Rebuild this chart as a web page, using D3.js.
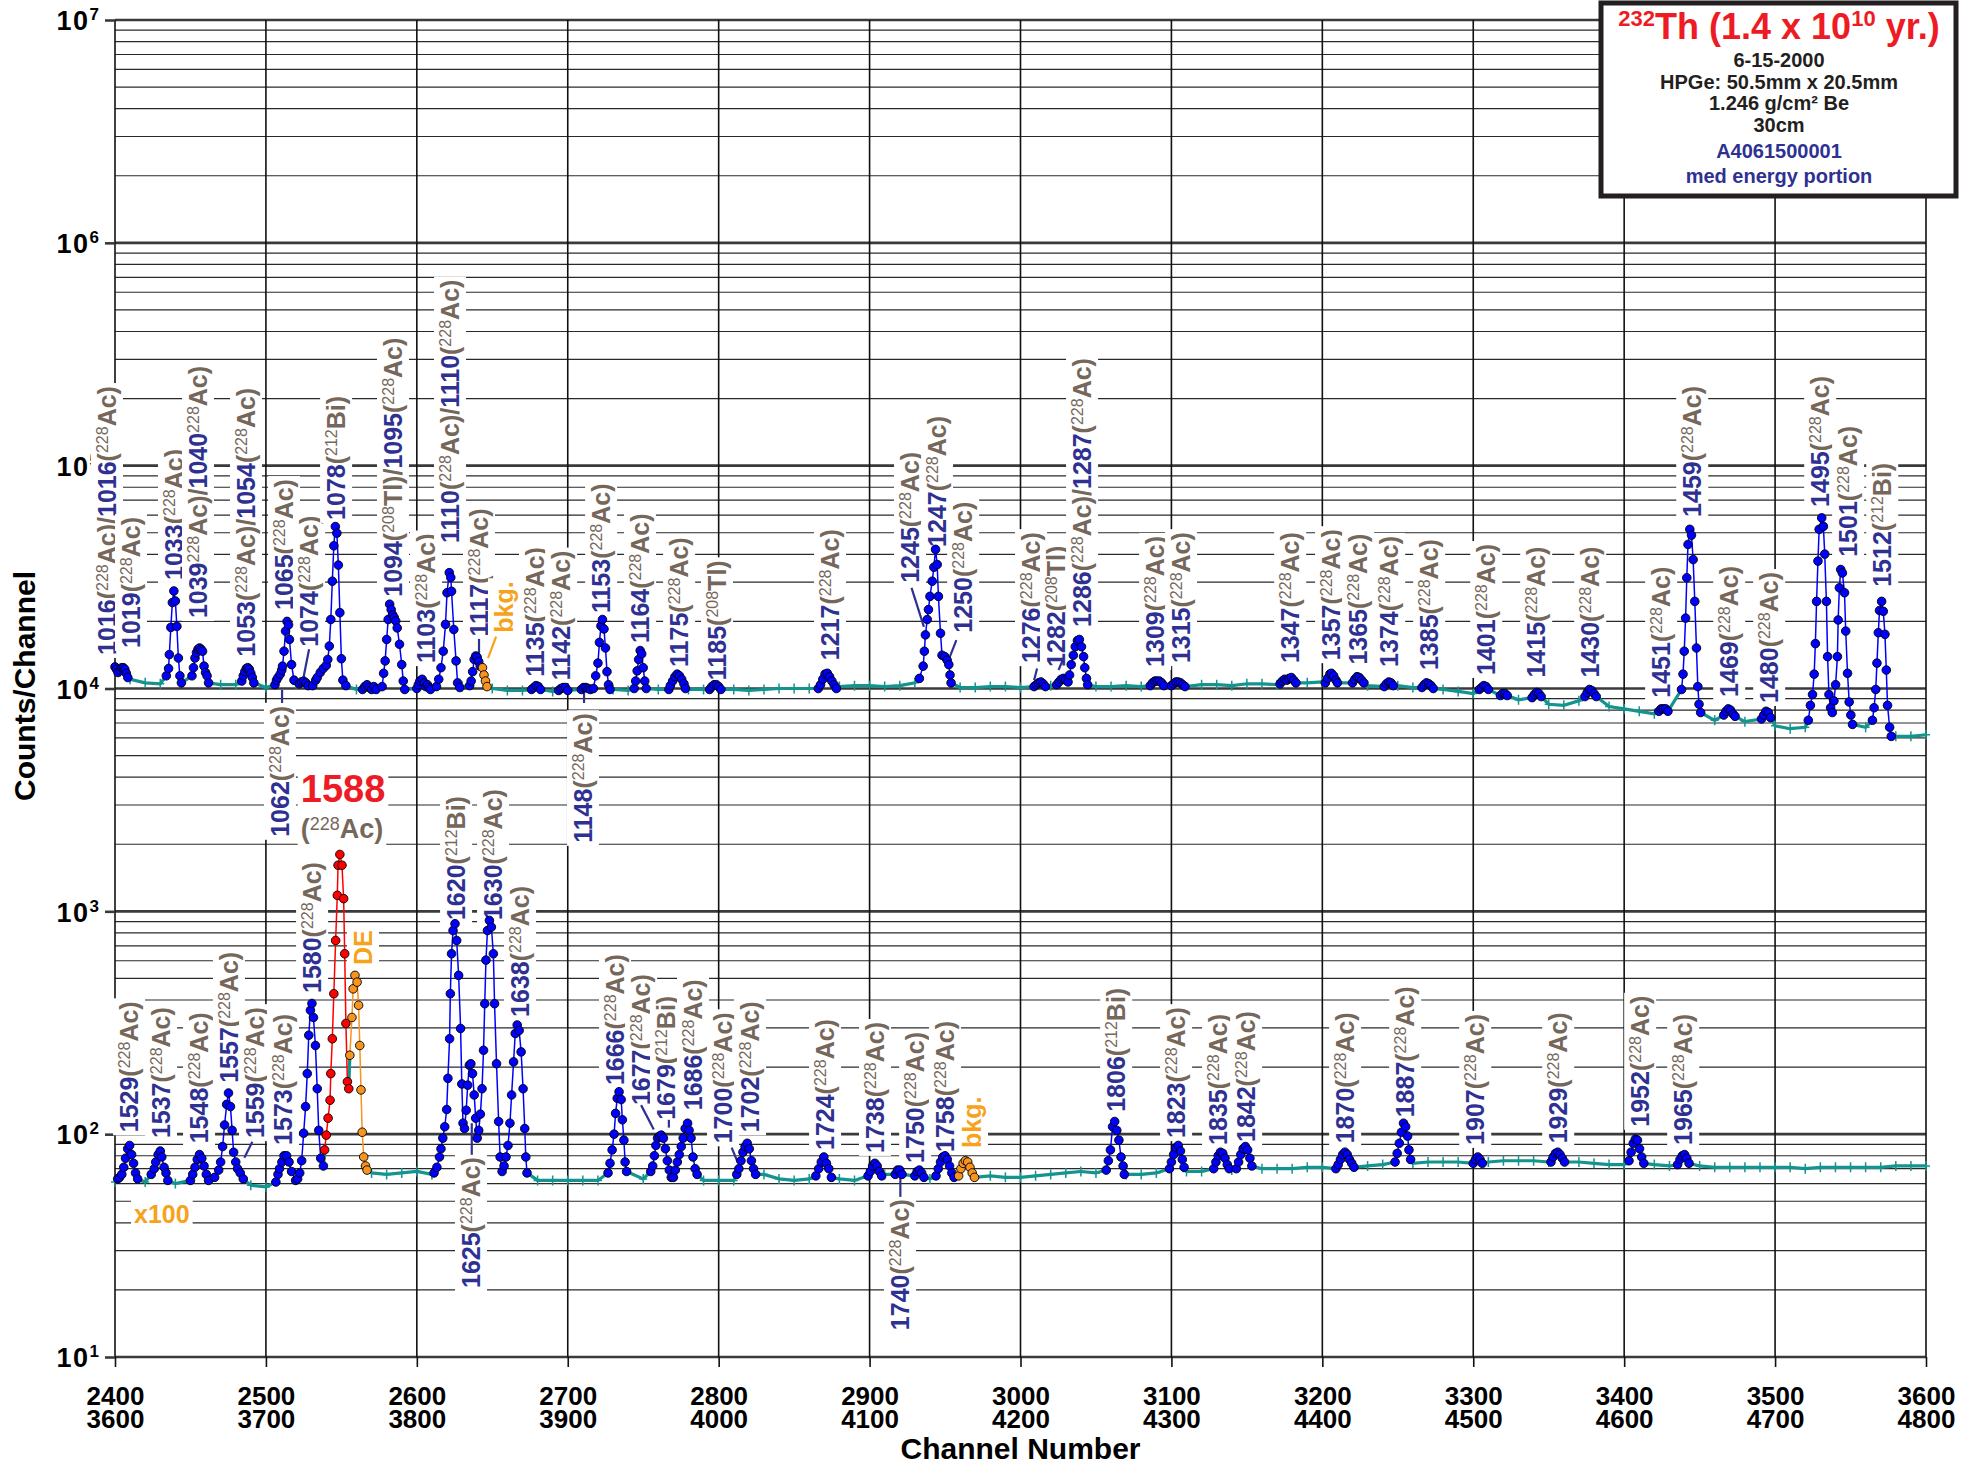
<!DOCTYPE html>
<html><head><meta charset="utf-8">
<script src="https://cdn.jsdelivr.net/npm/d3@7"></script>
<style>body{margin:0;background:#fff}svg{display:block}</style>
</head><body>
<svg id="c" width="1961" height="1465"></svg>
<script>
// ---------------- DATA ----------------
const xTickTop = [2400,2500,2600,2700,2800,2900,3000,3100,3200,3300,3400,3500,3600];
const xTickLow = [3600,3700,3800,3900,4000,4100,4200,4300,4400,4500,4600,4700,4800];
const yTickExp = [1,2,3,4,5,6,7];

// teal background spectrum, one reading every 10 channels
const bkgTopStart = 2400, bkgLowStart = 3600, bkgStep = 10;
const bkgTopCounts = [
 12200,11000,10600,10500,10600,10700,10800,10400,10400,10300,
 10100,10300,10500,10600,10700,10200,9900,9900,10000,10000,
 10000,9900,10100,10200,10600,10000,9800,9800,9900,9700,
 9800,9900,9900,9900,9800,9800,9900,9800,9900,9900,
 10000,9900,9800,9900,10000,10000,10000,10000,10200,10300,
 10300,10200,10300,10600,10600,10300,10100,10100,10200,10200,
 10100,10200,10300,10500,10400,10200,10200,10300,10200,10300,
 10400,10300,10400,10400,10300,10500,10500,10400,10500,10600,
 10700,10800,10600,10300,10300,10300,10100,10200,9900,9700,
 9500,9600,9200,8900,8900,8500,8400,8800,8800,8300,
 8100,7900,7700,7800,7600,7400,7200,7400,7100,7000,
 6800,6600,6700,6800,6700,6400,6700,6500,6100,6100,
 6200];
const bkgLowCounts = [
 61,62,61,62,60,60,60,61,62,59,
 58,59,61,63,64,66,67,67,66,67,
 68,66,66,65,65,64,64,63,62,62,
 62,62,62,63,64,63,63,63,63,62,
 62,62,64,66,63,62,63,65,63,62,
 64,66,64,63,63,64,65,65,65,64,
 64,65,66,67,68,67,67,66,66,67,
 67,68,68,69,69,70,70,70,70,71,
 71,72,72,72,73,74,74,75,75,75,
 76,75,76,76,76,75,75,75,74,73,
 73,74,73,72,72,72,71,71,71,71,
 71,71,70,71,71,71,71,71,72,72,
 72];

// fitted peak regions: [channel, counts]; k: p = peak, b = background region, m = main (1588), d = double escape
const peaksTop = [
 {k:'p',p:[[2400,12500],[2401,12200],[2402,11800],[2403.5,12100],[2404.5,12400],[2405.5,12400],[2406.5,12200],[2407.5,11700],[2408.5,11200]]},
 {k:'p',p:[[2434,11400],[2435.5,12300],[2436,14200],[2437,18800],[2438,24300],[2439,27400],[2440,24700],[2441,19000],[2442,13700],[2443,11400],[2444,10600]]},
 {k:'p',p:[[2451,11400],[2452,12400],[2453,13700],[2454,14500],[2455,15000],[2456,15200],[2457,15000],[2458,14700],[2459,12600],[2460,11800],[2461,11400],[2462,10600]]},
 {k:'p',p:[[2484,10800],[2485,11400],[2486,11900],[2487,12300],[2488,12400],[2489,12200],[2490,11700],[2491,11200],[2492,10600]]},
 {k:'p',p:[[2506,10400],[2507,10900],[2508,11200],[2509.5,11600],[2510.5,12100],[2511,12600],[2512,14700],[2513,18100],[2514,20000],[2515,19300],[2515.6,16600],[2517,12800],[2518.6,10900]]},
 {k:'p',p:[[2522,10500],[2523.5,10700],[2525,10800],[2526.5,10600],[2528,10300]]},
 {k:'p',p:[[2531,10300],[2533,10900],[2534,11200],[2536,11800],[2538,12300],[2540,12700],[2541,13500],[2542,15500],[2543,20400],[2544,30300],[2545,43700],[2546,53300],[2547,49800],[2548,35800],[2549,21900],[2550,13600],[2551,10900],[2553,10300]]},
 {k:'p',p:[[2564,9900],[2565.5,10200],[2567,10400],[2568.5,10100],[2570,9900],[2571.5,10200],[2573,9900]]},
 {k:'p',p:[[2577,10200],[2578,11700],[2579,13300],[2580,16600],[2581,20400],[2582,23900],[2583,22600],[2584,21400],[2585,20800],[2586,20100],[2587,18700],[2588.5,15800],[2590,12800],[2591,10800],[2592,9900]]},
 {k:'p',p:[[2600,10000],[2601,10400],[2602,10800],[2603.5,11000],[2605,10600],[2606,10200],[2607,10400],[2608,10100],[2609,9900]]},
 {k:'p',p:[[2613,10200],[2614.5,11000],[2616,12400],[2617.5,14700],[2619,19400],[2620,26900],[2621.5,33100],[2622.5,31500],[2623,27300],[2624.5,18400],[2626,13300],[2627,10600],[2628.5,10100]]},
 {k:'p',p:[[2635,10300],[2636,10800],[2637,11900],[2638,13500],[2639,14000],[2640,13800],[2641,13200],[2642,12600]]},
 {k:'b',p:[[2643.5,12400],[2644.5,11500],[2645.5,10800],[2646.5,10200]]},
 {k:'p',p:[[2676,9900],[2677.5,10100],[2679,10300],[2680.5,10200],[2682,9900]]},
 {k:'p',p:[[2694,9800],[2695.5,10000],[2697,10100],[2698.5,10100],[2700,9800]]},
 {k:'p',p:[[2709,9900],[2710.5,10100],[2712,10100],[2713.5,10000],[2715,9900]]},
 {k:'p',p:[[2717,10000],[2718.5,11400],[2720,13000],[2721,16100],[2722,19100],[2723,20400],[2724,18500],[2725,15200],[2726,11900],[2727,10400],[2728,9900]]},
 {k:'p',p:[[2744,10000],[2745,10800],[2746,12000],[2747,13500],[2748,14800],[2749,14300],[2750,12400],[2751,10800],[2752,10000]]},
 {k:'p',p:[[2767,9900],[2768,10300],[2769.5,10800],[2771,11300],[2772.5,11600],[2774,11400],[2775.5,11000],[2777,10500],[2778,10000]]},
 {k:'p',p:[[2794,9900],[2795.5,10200],[2797,10400],[2798.5,10400],[2800,10200],[2801.5,9900]]},
 {k:'p',p:[[2866,10000],[2867.5,10400],[2869,11000],[2870.5,11600],[2872,11700],[2873.5,11300],[2875,10800],[2876.5,10400],[2878,10000]]},
 {k:'p',p:[[2933,11100],[2935.5,12600],[2936.3,14700],[2937,17400],[2938.2,20400],[2939,22600],[2940,25900],[2941.5,30300],[2942.6,35000],[2943.7,42100],[2944.8,36000],[2945.6,25900],[2947,17700],[2948,14100],[2949.8,13900],[2951.4,13400],[2952.5,12800],[2953.3,11500],[2954,10600]]},
 {k:'p',p:[[3009,10200],[3010.5,10400],[3012,10600],[3013.5,10700],[3015,10500],[3016.5,10200]]},
 {k:'p',p:[[3024,10400],[3025.5,10700],[3027,11000],[3028.5,11100],[3030,10900],[3031.5,10700]]},
 {k:'p',p:[[3032.5,11500],[3033.6,12800],[3035,14100],[3036.3,15400],[3037.7,16400],[3039,16600],[3040.4,15400],[3041.8,13900],[3042.6,12400],[3043.7,11100],[3044.5,10400]]},
 {k:'p',p:[[3086,10300],[3087.5,10600],[3089,10800],[3090.5,10800],[3092,10800],[3093.5,10600],[3095,10300]]},
 {k:'p',p:[[3100,10300],[3101.5,10500],[3103,10700],[3104.5,10700],[3106,10600],[3107.5,10400],[3109,10200]]},
 {k:'p',p:[[3172,10500],[3173.5,10800],[3175,11000],[3176.5,10900],[3178,11100],[3179.5,11200],[3181,10900],[3182.5,10600]]},
 {k:'p',p:[[3202,10600],[3203.5,11100],[3205,11600],[3206,11700],[3207.5,11400],[3209,10900],[3210,10600]]},
 {k:'p',p:[[3220,10600],[3221.5,11000],[3223,11300],[3224.5,11200],[3226,10900],[3227.5,10600]]},
 {k:'p',p:[[3241,10200],[3242.5,10500],[3244,10700],[3245.5,10600],[3247,10300]]},
 {k:'p',p:[[3266,10100],[3267.5,10400],[3269,10600],[3270.5,10500],[3272,10300],[3273.5,10000]]},
 {k:'p',p:[[3304,9900],[3305.5,10100],[3307,10300],[3308.5,10200],[3310,9900]]},
 {k:'p',p:[[3318,9300],[3319.5,9500],[3321,9500],[3322.5,9300]]},
 {k:'p',p:[[3339,9100],[3340.5,9400],[3342,9600],[3343.5,9500],[3345,9200]]},
 {k:'p',p:[[3374,9200],[3375.5,9600],[3377,9900],[3378.5,9800],[3380,9500],[3381.5,9200]]},
 {k:'p',p:[[3423,7900],[3424.5,8100],[3426,8100],[3427.5,8100],[3429,7900]]},
 {k:'p',p:[[3438,9900],[3439,11600],[3439.8,14700],[3440.7,20700],[3441.5,31400],[3442.3,44300],[3443.5,51800],[3444.6,48800],[3445.7,37900],[3446.8,24600],[3447.9,15200],[3448.8,10200],[3449.6,8500],[3450.7,7800]]},
 {k:'p',p:[[3466,7600],[3467.5,7900],[3469,8100],[3470.5,8000],[3472,7700],[3473.5,7500]]},
 {k:'p',p:[[3491,7300],[3492.5,7600],[3494,7900],[3495.5,7800],[3497,7400]]},
 {k:'p',p:[[3522,7200],[3523.4,8400],[3524.8,9400],[3525.9,11600],[3526.7,15900],[3527.5,24600],[3528.4,37300],[3529.2,51800],[3530.9,58300],[3532,53400],[3532.9,40100],[3534,24600],[3534.8,13900],[3535.7,9400],[3536.8,8200],[3537.9,7800],[3539,8800],[3540.1,10400],[3541.3,13900],[3541.8,20300],[3542.6,28300],[3543.5,34200],[3544.6,33000],[3546,26900],[3546.8,18100],[3548,11700],[3549.1,8700],[3550.2,7600],[3551.3,6900]]},
 {k:'p',p:[[3564.5,7200],[3565.6,8200],[3566.7,9900],[3567.5,13000],[3568.4,17800],[3569.2,22400],[3570.6,24600],[3571.7,22200],[3572.8,17500],[3573.7,12100],[3574.5,8400],[3575.9,6700],[3577,6100]]}
];
const peaksLow = [
 {k:'p',p:[[3601.8,63],[3603,64],[3604.5,66],[3605.8,71],[3607,78],[3608.4,86],[3609.7,89],[3611,81],[3612.3,74],[3613.6,67],[3615,63]]},
 {k:'p',p:[[3624,66],[3626,70],[3627,75],[3628.6,81],[3630,84],[3631,79],[3632.5,71],[3633.8,67],[3635,62]]},
 {k:'p',p:[[3650,62],[3651.5,66],[3653,71],[3654.5,77],[3656,81],[3657.5,78],[3659,72],[3660.5,66],[3662,62]]},
 {k:'p',p:[[3666,64],[3668.7,69],[3670,75],[3671.3,88],[3672.6,110],[3674,136],[3675.2,153],[3676.5,133],[3677.6,104],[3678.6,83],[3680,75],[3681.2,70],[3683,67],[3685,63]]},
 {k:'p',p:[[3706.6,61],[3708,66],[3709,70],[3710.6,75],[3712,80],[3713.7,80],[3715.3,75],[3717,68],[3719.7,62]]},
 {k:'p',p:[[3721,63],[3722.4,67],[3723.7,76],[3725,101],[3726.3,133],[3727.4,187],[3728.4,278],[3729.5,360],[3730.5,386],[3731.5,334],[3732.8,250],[3734,160],[3735,104],[3736.3,78],[3738.1,72]]},
 {k:'m',p:[[3738.9,85],[3740,99],[3741.2,118],[3742.5,142],[3743,187],[3744,268],[3745,427],[3746.2,740],[3747.3,1180],[3747.8,1610],[3749,1800],[3750.4,1610],[3751.5,1140],[3752.2,645],[3753,314],[3754,172],[3754.9,160]]},
 {k:'d',p:[[3755.6,226],[3757,334],[3757.8,449],[3759,516],[3760.4,481],[3761.4,379],[3762.2,250],[3763,158],[3763.8,102],[3764.8,79],[3766,72],[3767,69]]},
 {k:'p',p:[[3811.4,67],[3813.3,71],[3815,79],[3816,86],[3817.2,96],[3818.5,108],[3819.8,129],[3820.6,178],[3821.7,268],[3822.2,427],[3823,645],[3824,820],[3825.3,880],[3826.4,740],[3827.7,516],[3829,298],[3829.8,168],[3830.6,112],[3831.6,106],[3832.7,128],[3833.7,166],[3834.8,204],[3835.8,207],[3836.9,187],[3838,150],[3839,118],[3840,96],[3841,104],[3842.1,123],[3843.2,160],[3844.2,238],[3845,385],[3845.8,604],[3846.8,820],[3848.1,910],[3849.4,850],[3850.7,645],[3851.5,385],[3852.8,207],[3854.2,114],[3855.2,79],[3856.5,68],[3857.8,72],[3859.1,79],[3860.4,89],[3861.7,112],[3862.8,150],[3864.1,211],[3865.2,283],[3866.5,309],[3867.8,292],[3869.1,234],[3870.4,160],[3871.5,106],[3872.2,79],[3873,67]]},
 {k:'p',p:[[3926.7,67],[3928,74],[3929.4,85],[3930.7,100],[3931.7,124],[3932.8,145],[3934,155],[3935.4,143],[3936.2,116],[3937.2,94],[3938,75],[3939,68]]},
 {k:'p',p:[[3955,68],[3956.3,72],[3957.4,80],[3958.4,89],[3959.5,96],[3960.8,98],[3962,99],[3963.4,96],[3964.7,86],[3966,76],[3967.3,69],[3968.6,64]]},
 {k:'p',p:[[3970,64],[3971.3,69],[3972.6,75],[3973.9,81],[3975.2,88],[3976.5,96],[3977.8,106],[3979.4,112],[3980.4,104],[3981.7,96],[3983,79],[3984.4,70],[3985.7,66]]},
 {k:'p',p:[[4012,66],[4013.4,70],[4014.8,76],[4016.1,83],[4017.5,88],[4018.9,91],[4020.3,86],[4021.7,76],[4023.1,70],[4024.5,66]]},
 {k:'p',p:[[4064.4,65],[4066.3,70],[4068,75],[4069.7,79],[4071.4,74],[4073,70],[4074.7,64]]},
 {k:'p',p:[[4099,65],[4100.5,68],[4102,72],[4103.5,74],[4105,72],[4106.5,68],[4108,65]]},
 {k:'p',p:[[4117,66],[4118.5,69],[4120,69],[4121.5,66]]},
 {k:'p',p:[[4130,65],[4131.5,68],[4133,69],[4134.5,67],[4136,64]]},
 {k:'p',p:[[4144,65],[4145.5,70],[4147,75],[4148.5,79],[4150,80],[4151.5,77],[4153,72],[4154.5,67],[4156,64]]},
 {k:'b',p:[[4159,65],[4160.5,70],[4162,74],[4163.5,76],[4165,75],[4166.5,71],[4168,67],[4169.5,64]]},
 {k:'p',p:[[4256.8,69],[4258.2,76],[4259.6,85],[4261,108],[4262.4,114],[4263.8,104],[4265.2,94],[4266.6,79],[4268,72],[4268.8,66]]},
 {k:'p',p:[[4298.7,70],[4300,75],[4301.5,81],[4303,87],[4304.5,89],[4306,84],[4307.2,77],[4308.4,71]]},
 {k:'p',p:[[4328,70],[4329.5,75],[4331,80],[4332.5,83],[4334,82],[4335.5,78],[4337,73],[4338.3,70]]},
 {k:'p',p:[[4343,70],[4344.5,75],[4346,81],[4347.5,86],[4349,88],[4350.5,85],[4352,78],[4353.3,72]]},
 {k:'p',p:[[4409,70],[4410.5,73],[4412,77],[4413.5,81],[4415,83],[4416.5,81],[4418,77],[4419.5,74],[4421,71]]},
 {k:'p',p:[[4448.2,75],[4449.6,82],[4451,91],[4452.4,102],[4453.8,112],[4455.2,108],[4456.5,98],[4457.4,85],[4458.5,77]]},
 {k:'p',p:[[4500,74],[4501.5,77],[4503,79],[4504.5,77],[4506,74]]},
 {k:'p',p:[[4551.5,75],[4553,79],[4554.5,82],[4556,83],[4557.5,81],[4559,78],[4560.5,75]]},
 {k:'p',p:[[4603.2,76],[4604.6,83],[4606,91],[4607.4,95],[4608.8,94],[4610.2,86],[4611.6,79],[4613,74]]},
 {k:'p',p:[[4635.4,73],[4637,77],[4638.5,80],[4640,81],[4641.5,78],[4643,74]]}
];

// peak labels: [text, channel, counts at start of text]  (^ marks the mass number)
const labelsTop = [
 ["1016(^228Ac)/1016(^228Ac)",2394.7,14150],["1019(^228Ac)",2410.6,15200],["1033(^228Ac)",2439.1,30700],
 ["1039^228Ac)/1040^228Ac)",2455,20700],["1053(^228Ac)/1054(^228Ac)",2486.8,13900],["1065(^228Ac)",2512,22500],
 ["1074(^228Ac)",2528.6,15400],["1078(^212Bi)",2546.5,57100],["1094(^208Tl)/1095(^228Ac)",2584.2,25800],
 ["1103(^228Ac)",2606.1,13000],["1110(^228Ac)/1110(^228Ac)",2622,45000],["1117(^228Ac)",2641.2,17100],
 ["bkg.",2657.8,17800],["1135(^228Ac)",2678.3,11300],["1142(^228Ac)",2695.6,10900],["1153(^228Ac)",2722.1,21800],
 ["1164(^228Ac)",2747.9,16000],["1175(^228Ac)",2773.8,12500],["1185(^208Tl)",2798.9,10900],["1217(^228Ac)",2873.8,13400],
 ["1245(^228Ac)",2926.8,29800],["1247(^228Ac)",2944.7,43200],["1250(^228Ac)",2962,17800],["1276(^228Ac)",3007,13000],
 ["1282(^208Tl)",3023.6,12500],["1286(^228Ac)/1287(^228Ac)",3040.8,18900],["1309(^228Ac)",3089.2,12500],
 ["1315(^228Ac)",3106.4,13000],["1347(^228Ac)",3178.7,13000],["1357(^228Ac)",3205.8,13400],["1365(^228Ac)",3223.7,12800],
 ["1374(^228Ac)",3244.3,12500],["1385(^228Ac)",3270.8,12100],["1401(^228Ac)",3308.6,11500],["1415(^228Ac)",3341.7,11200],
 ["1430(^228Ac)",3377.5,11200],["1451(^228Ac)",3424.5,9090],["1459(^228Ac)",3445.1,58900],["1469(^228Ac)",3469.6,9170],
 ["1480(^228Ac)",3496.1,8610],["1495(^228Ac)",3529.9,65300],["1501(^228Ac)",3548.4,39000],["1512(^212Bi)",3571,28600],
 ["1062(^228Ac)",2509.3,2160],["1148(^228Ac)",2710.1,2030]
];
const labelsLow = [
 ["1529(^228Ac)",3609.3,102],["1537(^228Ac)",3630.5,96],["1548(^228Ac)",3655.7,91],["1557(^228Ac)",3675.5,170],
 ["1559(^228Ac)",3692.8,96],["1573(^228Ac)",3711.3,89.5],["1580(^228Ac)",3730.6,430],["DE",3764.3,574],
 ["1620(^212Bi)",3826,914],["1625(^228Ac)",3835.9,20.4],["1630(^228Ac)",3850.5,914],["1638(^228Ac)",3868.4,336],
 ["1666(^228Ac)",3931.3,166],["1677(^228Ac)",3948.6,135],["1679(^212Bi)",3965.1,116],["1686(^228Ac)",3983,128],
 ["1700(^228Ac)",4002.9,91],["1702(^228Ac)",4020.8,102],["1724(^228Ac)",4070.5,84.9],["1738(^228Ac)",4103.6,82.4],
 ["1740(^228Ac)",4120.2,13.2],["1750(^228Ac)",4130.2,74.3],["1758(^228Ac)",4150,83.2],["bkg.",4167.9,86.7],
 ["1806(^212Bi)",4263.4,126],["1823(^228Ac)",4303.1,96],["1835(^228Ac)",4330.9,89.5],["1842(^228Ac)",4349.5,92.2],
 ["1870(^228Ac)",4415.1,91],["1887(^228Ac)",4454.9,119],["1907(^228Ac)",4501.3,89.5],["1929(^228Ac)",4556.3,91],
 ["1952(^228Ac)",4610.6,108],["1965(^228Ac)",4639.1,89.5]
];
const mainPeakLabel = ["1588",3751.1,3100];
const mainPeakIso = ["(^228Ac)",3750.4,2130];
const scaleNote = ["x100",3612.6,39.9];
// leader lines: [ch1, counts1, ch2, counts2, kind]
const leadersTop = [
 [2525,11300,2528.6,15000,'n'],[2641.2,14300,2641.2,16700,'n'],[2647.2,13700,2652.5,17100,'o'],
 [2510.7,9860,2510.7,8610,'n'],[2710.8,9860,2710.8,8610,'n'],[2927.8,28300,2936,18900,'n'],
 [2952.5,13500,2957.5,16500,'n'],[3009,10900,3011,12300,'n'],[3025.2,12100,3028,13400,'n']
];
const leadersLow = [
 [3685.7,78.4,3691,92.4,'n'],[3836.4,112,3836.4,80.8,'n'],[3957,105,3948.6,135,'n'],
 [3967,116,3967,107,'n'],[4008.6,87,4012.7,74.6,'n'],[4120.4,66.5,4120.4,52.3,'n']
];
const infoLines = ["6-15-2000","HPGe: 50.5mm x 20.5mm","1.246 g/cm\u00B2 Be","30cm"];
const infoBlue = ["A4061500001","med energy portion"];

// ---------------- CHART ----------------
const m = {l:115, r:1926, t:20, b:1357};
const xTop = d3.scaleLinear().domain([2400,3600]).range([m.l,m.r]);
const xLow = d3.scaleLinear().domain([3600,4800]).range([m.l,m.r]);
const y = d3.scaleLog().domain([10,1e7]).range([m.b,m.t]);
const FONT = "'Liberation Sans', Arial, Helvetica, sans-serif";
const NUM='#2E3192', ISO='#76675B', ORG='#F7A21B', RED='#ED1C24', TEAL='#14948F';
const svg = d3.select('#c').attr('font-family',FONT);

// grid
const grid = svg.append('g');
const isMajor = d => Math.abs(Math.log10(d) - Math.round(Math.log10(d))) < 1e-9;
grid.selectAll('line.h').data(y.ticks()).join('line')
  .attr('x1',m.l).attr('x2',m.r).attr('y1',d=>y(d)).attr('y2',d=>y(d))
  .attr('stroke',d=>isMajor(d)?'#3a3a3a':'#2a2a2a').attr('stroke-width',d=>isMajor(d)?2.6:1.2);
grid.selectAll('line.v').data(xTickTop).join('line')
  .attr('x1',d=>xTop(d)).attr('x2',d=>xTop(d)).attr('y1',m.t).attr('y2',m.b)
  .attr('stroke','#111').attr('stroke-width',1.6);

// axes
const axT = svg.append('g').attr('transform',`translate(0,${m.b})`)
  .call(d3.axisBottom(xTop).tickValues(xTickTop).tickSize(10).tickFormat(d3.format('d')));
const axL = svg.append('g').attr('transform',`translate(0,${m.b})`)
  .call(d3.axisBottom(xLow).tickValues(xTickLow).tickSize(0).tickFormat(d3.format('d')));
[axT,axL].forEach((a,i)=>{
  a.select('.domain').remove();
  a.attr('font-family',FONT).attr('font-size',26).attr('font-weight','bold');
  a.selectAll('line').attr('stroke','#111').attr('stroke-width',1.6);
  a.selectAll('text').attr('fill','#000').attr('dy',0).attr('y',i===0?48:71);
});
const axY = svg.append('g').attr('transform',`translate(${m.l},0)`)
  .call(d3.axisLeft(y).tickValues(yTickExp.map(e=>Math.pow(10,e))).tickSize(10).tickFormat(()=>''));
axY.select('.domain').remove();
axY.selectAll('line').attr('stroke','#3a3a3a').attr('stroke-width',2.6);
axY.selectAll('.tick').each(function(d){
  const t = d3.select(this).append('text').attr('x',-16).attr('dy','0.36em')
    .attr('text-anchor','end').attr('fill','#000').attr('font-family',FONT)
    .attr('font-weight','bold').attr('font-size',27);
  t.append('tspan').text('10').attr('letter-spacing',1.5);
  t.append('tspan').text(Math.round(Math.log10(d))).attr('font-size',17).attr('dy',-10);
});

// axis titles
svg.append('text').attr('x',(m.l+m.r)/2).attr('y',1459).attr('text-anchor','middle')
  .attr('font-weight','bold').attr('font-size',30).attr('fill','#000').text('Channel Number');
svg.append('text').attr('transform',`translate(35,686) rotate(-90)`).attr('text-anchor','middle')
  .attr('font-weight','bold').attr('font-size',30).attr('fill','#000').text('Counts/Channel');

// rich labels
const FS=25, SUP=16, SUPDY=8;
function fillRich(text, str){
  const toks = str.match(/\^\d+|\d{4}|[^\^\d]+|\d+/g);
  let shifted=false;
  toks.forEach(tk=>{
    const ts = text.append('tspan');
    if(tk[0]==='^'){
      ts.text(tk.slice(1)).attr('font-size',SUP).attr('font-weight','normal').attr('fill',ISO).attr('dy',-SUPDY).attr('class','sup');
      shifted=true;
    } else {
      ts.text(tk).attr('fill', /^\d{4}$/.test(tk)?NUM:ISO);
      if(shifted){ts.attr('dy',SUPDY); shifted=false;}
    }
  });
}
const labG = svg.append('g').attr('font-weight','bold').attr('font-size',FS);
function addBox(g, t, pad){
  const bb = t.node().getBBox();
  g.insert('rect','text').attr('x',bb.x-pad).attr('y',bb.y-pad+1).attr('width',bb.width+2*pad)
    .attr('height',bb.height+2*pad-2).attr('fill','#fff');
}
function drawVLabel(L, xs){
  const g = labG.append('g').attr('transform',`translate(${xs(L[1])},${y(L[2])}) rotate(-90)`);
  const t = g.append('text').attr('dy','0.36em');
  if(L[0]==='bkg.'||L[0]==='DE') t.text(L[0]).attr('fill',ORG);
  else fillRich(t, L[0]);
  addBox(g,t,3);
}
labelsTop.forEach(L=>drawVLabel(L,xTop));
labelsLow.forEach(L=>drawVLabel(L,xLow));
{
  const g = labG.append('g');
  const t = g.append('text').attr('x',xLow(mainPeakLabel[1])).attr('y',y(mainPeakLabel[2]))
    .attr('text-anchor','middle').attr('font-size',38).attr('fill',RED).text(mainPeakLabel[0]);
  addBox(g,t,3);
  const g2 = labG.append('g');
  const t2 = g2.append('text').attr('x',xLow(mainPeakIso[1])).attr('y',y(mainPeakIso[2]))
    .attr('text-anchor','middle').attr('font-size',27);
  fillRich(t2, mainPeakIso[0]);
  t2.selectAll('tspan.sup').attr('font-size',18);
  addBox(g2,t2,3);
  const g3 = labG.append('g');
  const t3 = g3.append('text').attr('x',xLow(scaleNote[1])).attr('y',y(scaleNote[2]))
    .attr('font-size',25).attr('fill',ORG).text(scaleNote[0]);
  addBox(g3,t3,3);
}
// leaders
const leadG = svg.append('g');
function drawLeaders(arr, xs){
  leadG.selectAll(null).data(arr).join('line')
    .attr('x1',d=>xs(d[0])).attr('y1',d=>y(d[1])).attr('x2',d=>xs(d[2])).attr('y2',d=>y(d[3]))
    .attr('stroke',d=>d[4]==='o'?ORG:NUM).attr('stroke-width',2.2);
}
drawLeaders(leadersTop,xTop); drawLeaders(leadersLow,xLow);

// spectra
const dataG = svg.append('g');
function tealSeries(start, counts, peaks){
  const ranges = peaks.map(p=>[p.p[0][0], p.p[p.p.length-1][0]]);
  const items = [];
  counts.forEach((v,i)=>{
    const c = start + i*bkgStep;
    if(!ranges.some(r=>c>=r[0]-1 && c<=r[1]+1)) items.push({c,v});
  });
  peaks.forEach(p=>{
    const a=p.p[0], b=p.p[p.p.length-1];
    items.push({c:a[0],v:a[1],edge:true},{c:(a[0]+b[0])/2,gap:true},{c:b[0],v:b[1],edge:true});
  });
  items.sort((a,b)=>a.c-b.c);
  return items;
}
const colors = {p:'#0000FF', b:'#F7931E', m:'#FF0000', d:'#F7941D'};
function drawSpectrum(start, counts, peaks, xs){
  const items = tealSeries(start, counts, peaks);
  const line = d3.line().defined(d=>!d.gap).x(d=>xs(d.c)).y(d=>y(d.v));
  dataG.append('path').attr('d',line(items)).attr('fill','none').attr('stroke',TEAL).attr('stroke-width',3.2);
  dataG.append('g').selectAll('path').data(items.filter(d=>!d.gap && !d.edge)).join('path')
    .attr('d','M-4,0h8M0,-5v10').attr('transform',d=>`translate(${xs(d.c)},${y(d.v)})`)
    .attr('stroke',TEAL).attr('stroke-width',1.5);
  const pl = d3.line().x(d=>xs(d[0])).y(d=>y(d[1]));
  peaks.forEach(pk=>{
    const col = colors[pk.k];
    dataG.append('path').attr('d',pl(pk.p)).attr('fill','none').attr('stroke',col).attr('stroke-width',1.5);
    dataG.append('g').selectAll('circle').data(pk.p).join('circle')
      .attr('cx',d=>xs(d[0])).attr('cy',d=>y(d[1])).attr('r',4.3)
      .attr('fill',col).attr('stroke','#000').attr('stroke-width',0.9);
  });
}
drawSpectrum(bkgTopStart, bkgTopCounts, peaksTop, xTop);
drawSpectrum(bkgLowStart, bkgLowCounts, peaksLow, xLow);

// info box
const box = svg.append('g');
box.append('rect').attr('x',1601).attr('y',3).attr('width',355).attr('height',193)
  .attr('fill','#fff').attr('stroke','#231F20').attr('stroke-width',5);
const cx = 1779;
const tt = box.append('text').attr('x',cx).attr('y',39).attr('text-anchor','middle')
  .attr('font-weight','bold').attr('font-size',36).attr('fill',RED);
tt.append('tspan').text('232').attr('font-size',22).attr('dy',-13);
tt.append('tspan').text('Th (1.4 x 10').attr('dy',13);
tt.append('tspan').text('10').attr('font-size',22).attr('dy',-13);
tt.append('tspan').text(' yr.)').attr('dy',13);
box.selectAll('text.info').data(infoLines).join('text').attr('class','info')
  .attr('x',cx).attr('y',(d,i)=>[67,89,110,132][i]).attr('text-anchor','middle')
  .attr('font-weight','bold').attr('font-size',20).attr('fill','#231F20').text(d=>d);
box.selectAll('text.blue').data(infoBlue).join('text').attr('class','blue')
  .attr('x',cx).attr('y',(d,i)=>[158,183][i]).attr('text-anchor','middle')
  .attr('font-weight','bold').attr('font-size',20).attr('fill',NUM).text(d=>d);
</script>
</body></html>
